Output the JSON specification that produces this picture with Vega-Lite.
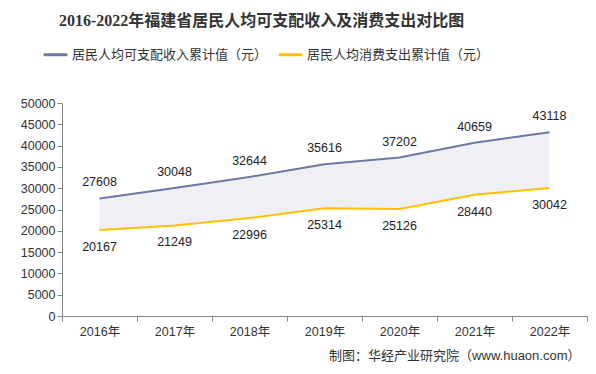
{
  "$schema": "https://vega.github.io/schema/vega-lite/v6.json",
  "width": 525,
  "height": 213,
  "autosize": {"type": "none"},
  "padding": {"left": 62, "top": 103, "right": 9, "bottom": 58},
  "background": "white",
  "title": {
    "text": "2016-2022年福建省居民人均可支配收入及消费支出对比图",
    "anchor": "start",
    "frame": "group",
    "dx": -3,
    "offset": 12,
    "font": "Liberation Serif, Noto Sans CJK SC",
    "fontSize": 16,
    "fontWeight": "bold",
    "color": "#333333"
  },
  "config": {
    "view": {"stroke": null},
    "font": "Liberation Sans, Noto Sans CJK SC",
    "axis": {"labelFont": "Liberation Sans, Noto Sans CJK SC", "labelColor": "#333333", "labelFontSize": 12.5, "domainColor": "#888888", "tickColor": "#888888", "grid": false},
    "axisY": {"tickCount": 10, "labelOverlap": false},
    "axisQuantitative": {"tickCount": 10}
  },
  "data": {
    "values": [
      {"year": "2016年", "series": "居民人均可支配收入累计值（元）", "value": 27608},
      {"year": "2017年", "series": "居民人均可支配收入累计值（元）", "value": 30048},
      {"year": "2018年", "series": "居民人均可支配收入累计值（元）", "value": 32644},
      {"year": "2019年", "series": "居民人均可支配收入累计值（元）", "value": 35616},
      {"year": "2020年", "series": "居民人均可支配收入累计值（元）", "value": 37202},
      {"year": "2021年", "series": "居民人均可支配收入累计值（元）", "value": 40659},
      {"year": "2022年", "series": "居民人均可支配收入累计值（元）", "value": 43118},
      {"year": "2016年", "series": "居民人均消费支出累计值（元）", "value": 20167},
      {"year": "2017年", "series": "居民人均消费支出累计值（元）", "value": 21249},
      {"year": "2018年", "series": "居民人均消费支出累计值（元）", "value": 22996},
      {"year": "2019年", "series": "居民人均消费支出累计值（元）", "value": 25314},
      {"year": "2020年", "series": "居民人均消费支出累计值（元）", "value": 25126},
      {"year": "2021年", "series": "居民人均消费支出累计值（元）", "value": 28440},
      {"year": "2022年", "series": "居民人均消费支出累计值（元）", "value": 30042}
    ]
  },
  "encoding": {
    "x": {
      "field": "year",
      "type": "ordinal",
      "scale": {"type": "band", "paddingInner": 0, "paddingOuter": 0},
      "axis": {
        "labelAngle": 0,
        "tickBand": "extent",
        "tickSize": 5,
        "labelPadding": 4,
        "title": "制图：华经产业研究院（www.huaon.com）",
        "titleX": 518,
        "titleY": 39,
        "titleAlign": "right",
        "titleBaseline": "middle",
        "titleFont": "Liberation Sans, Noto Sans CJK SC",
        "titleFontSize": 13,
        "titleFontWeight": "normal",
        "titleColor": "#333333"
      }
    },
    "y": {
      "field": "value",
      "type": "quantitative",
      "scale": {"domain": [0, 50000], "nice": false},
      "axis": {"tickCount": 10, "labelOverlap": false, "tickSize": 5, "labelPadding": 2, "title": null, "format": "d"}
    }
  },
  "layer": [
    {
      "transform": [
        {"joinaggregate": [{"op": "min", "field": "value", "as": "low"}], "groupby": ["year"]},
        {"filter": "datum.series == '居民人均可支配收入累计值（元）'"}
      ],
      "mark": {"type": "area", "color": "#eef0f5", "opacity": 1},
      "encoding": {
        "y2": {"field": "low"}
      }
    },
    {
      "mark": {"type": "line", "strokeWidth": 2},
      "encoding": {
        "color": {
          "field": "series",
          "type": "nominal",
          "sort": ["居民人均可支配收入累计值（元）", "居民人均消费支出累计值（元）"],
          "scale": {"domain": ["居民人均可支配收入累计值（元）", "居民人均消费支出累计值（元）"], "range": ["#6a7aa3", "#ffc000"]},
          "legend": {
            "orient": "none",
            "legendX": -20,
            "legendY": -62,
            "direction": "horizontal",
            "title": null,
            "symbolType": "stroke",
            "symbolSize": 560,
            "symbolStrokeWidth": 3,
            "labelFontSize": 13,
            "labelLimit": 400,
            "labelColor": "#333333",
            "labelOffset": 3,
            "columnPadding": 4
          }
        }
      }
    },
    {
      "transform": [{"filter": "datum.series == '居民人均可支配收入累计值（元）'"}],
      "mark": {"type": "text", "dy": -16, "fontSize": 12.5, "color": "#222222"},
      "encoding": {
        "text": {"field": "value", "type": "quantitative", "format": "d"}
      }
    },
    {
      "transform": [{"filter": "datum.series == '居民人均消费支出累计值（元）'"}],
      "mark": {"type": "text", "dy": 17, "fontSize": 12.5, "color": "#222222"},
      "encoding": {
        "text": {"field": "value", "type": "quantitative", "format": "d"}
      }
    }
  ]
}
